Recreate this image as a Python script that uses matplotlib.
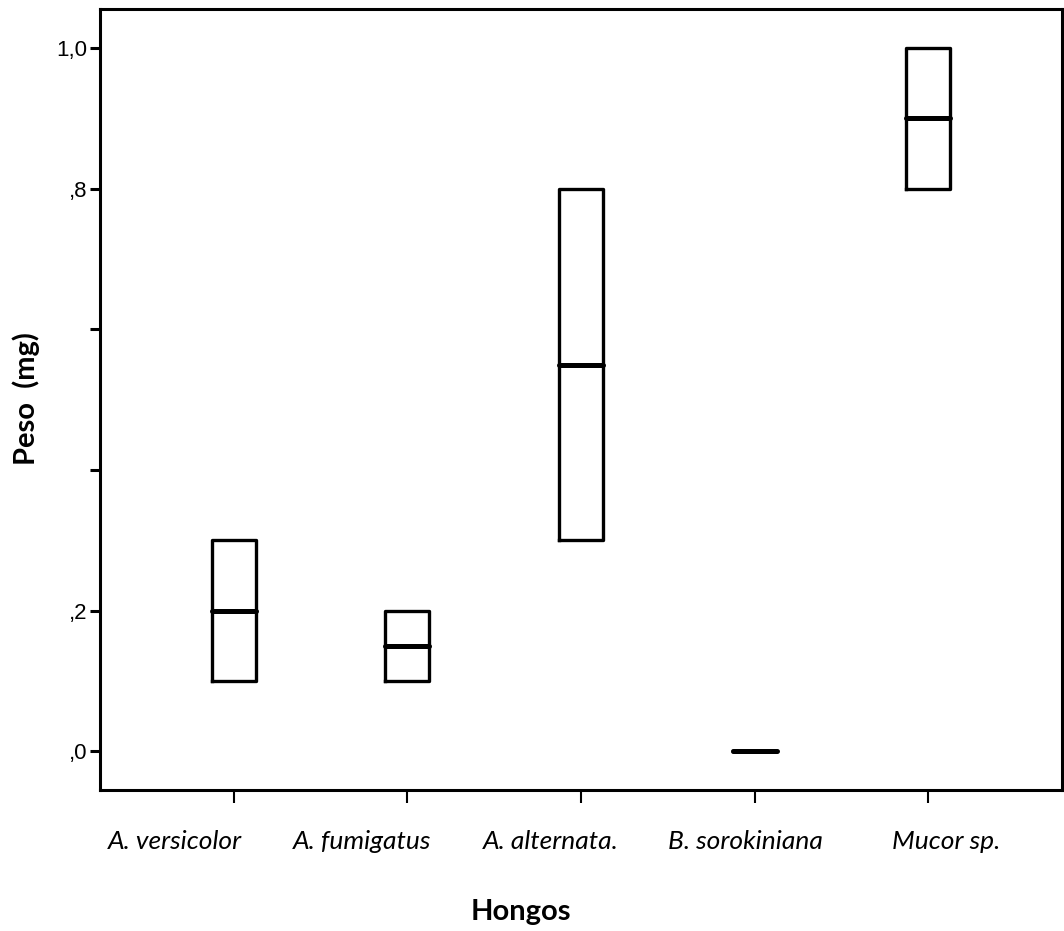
import matplotlib.pyplot as plt
import matplotlib.transforms as mtransforms

# Peso por hongo: cuartiles y mediana
hongos = ['A. versicolor', 'A. fumigatus', 'A. alternata.', 'B. sorokiniana', 'Mucor sp.']
q1 = [0.1, 0.1, 0.3, 0.0, 0.8]
mediana = [0.2, 0.15, 0.55, 0.0, 0.9]
q3 = [0.3, 0.2, 0.8, 0.0, 1.0]

y_ticks = [0.0, 0.2, 0.4, 0.6, 0.8, 1.0]
y_labels = [',0', ',2', '', '', ',8', '1,0']

# desplazamiento horizontal de cada nombre respecto a su marca (puntos)
label_dx = [-42.5, -32.4, -21.6, -6.5, 13.0]

stats = []
for i in range(len(hongos)):
    stats.append({'label': hongos[i], 'q1': q1[i], 'med': mediana[i], 'q3': q3[i],
                  'whislo': q1[i], 'whishi': q3[i], 'fliers': []})

fig = plt.figure(figsize=(10.64, 9.31), dpi=100)
ax = fig.add_axes([0.094, 0.1515, 0.904, 0.8388])

ax.bxp(stats, positions=range(len(hongos)), widths=0.253, showcaps=False,
       boxprops=dict(color='black', linewidth=2.4),
       whiskerprops=dict(color='black', linewidth=2.4),
       medianprops=dict(color='black', linewidth=3.6, solid_capstyle='round'))

ax.set_xlim(-0.77, 4.77)
ax.set_ylim(-0.0547, 1.0554)

ax.set_yticks(y_ticks)
ax.set_yticklabels(y_labels, fontfamily=['Liberation Sans Narrow', 'Liberation Sans'], fontsize=16)
ax.set_xticks(range(len(hongos)))
ax.set_xticklabels([''] * len(hongos))

for s in ax.spines.values():
    s.set_linewidth(2.2)
ax.tick_params(axis='y', direction='out', length=7.2, width=2.2, pad=2)
ax.tick_params(axis='x', direction='out', length=9.4, width=1.5)

# nombres de los hongos bajo cada marca
base = mtransforms.blended_transform_factory(ax.transData, ax.transAxes)
for i, name in enumerate(hongos):
    off = mtransforms.ScaledTranslation(label_dx[i] / 72, -42.5 / 72, fig.dpi_scale_trans)
    ax.text(i, 0, name, transform=base + off, ha='center', va='baseline',
            fontfamily='Lato', fontstyle='italic', fontsize=19)

ax.set_ylabel('Peso  (mg)', fontfamily='Lato', fontweight='bold', fontsize=21)
ax.yaxis.set_label_coords(-0.0624, 0.501)
ax.set_xlabel('Hongos', fontfamily='Lato', fontweight='bold', fontsize=21)
ax.xaxis.set_label_coords(0.4376, -0.1396)

plt.savefig('out.png', dpi=100)
